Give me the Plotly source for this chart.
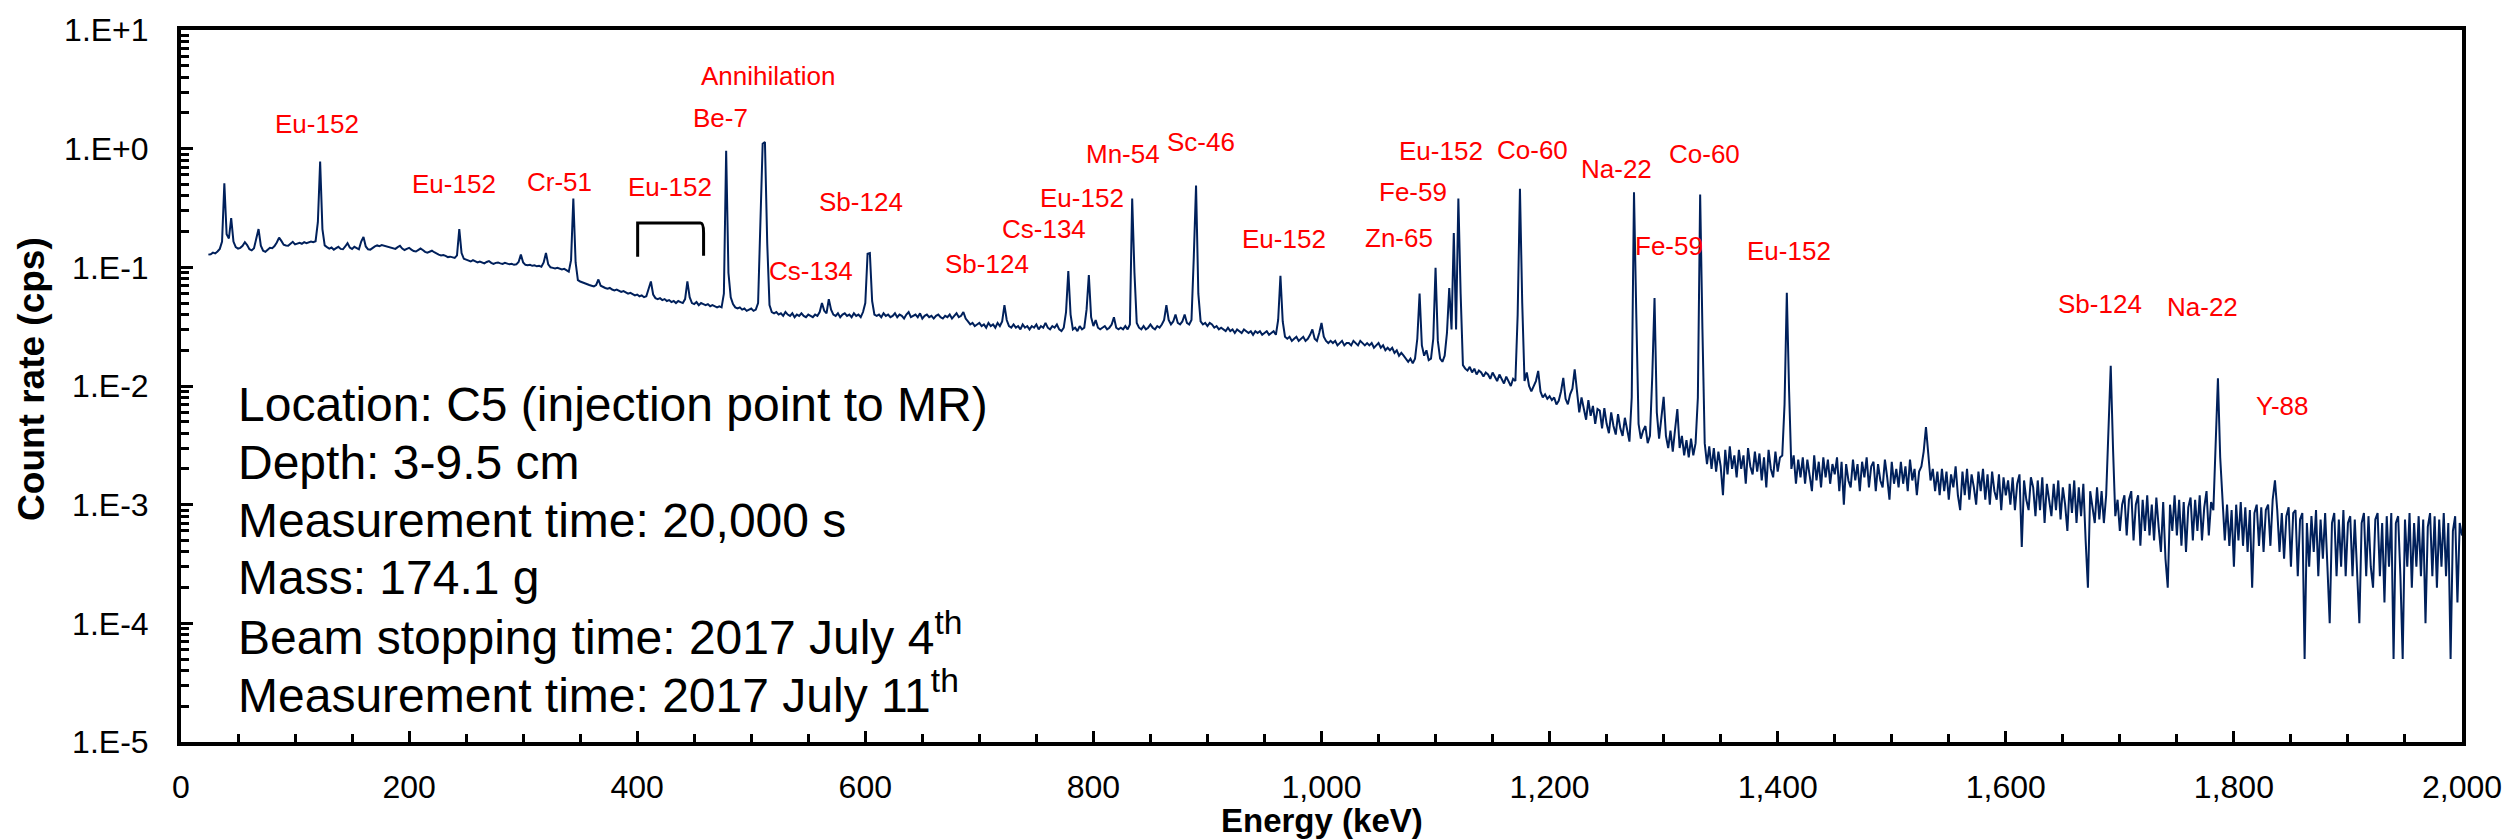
import numpy as np
import plotly.graph_objects as go

# Gamma-ray spectrum, 2 keV bins from 24 keV to 2000 keV.
# Count rates are stored in units of 1e-5 cps, one row per 20 keV.
rate_24_422 = [
    12800, 12900, 13300, 13100, 13600, 14300, 16500, 51000, 19000, 17500,
    26000, 16500, 14800, 14400, 14600, 15200, 16300, 15400, 14200, 13900,
    14500, 17200, 21000, 15200, 13800, 13500, 14000, 14600, 14500, 15100,
    16200, 17800, 16700, 15500, 15300, 15200, 15800, 16400, 15600, 15900,
    16100, 15800, 16300, 16000, 16200, 16500, 16300, 16600, 24000, 78000,
    21000, 15300, 14800, 14400, 14700, 14100, 14500, 14900, 14300, 14200,
    15000, 16000, 14700, 14300, 14900, 14500, 14200, 16500, 18000, 15000,
    14200, 14100, 14600, 15000, 15300, 15100, 15400, 15200, 15000, 14800,
    14600, 14400, 14300, 14800, 15200, 14400, 14000, 14300, 14600, 14100,
    13700, 13600, 13900, 14400, 14000, 13500, 13300, 13600, 13800, 13400,
    13000, 12800, 12600, 12700, 12500, 12200, 12300, 12100, 12000, 12600,
    21000, 13200, 11800, 11600, 11400, 11200, 11500, 11300, 11000, 11200,
    11000, 10800, 11100, 11300, 10900, 10700, 10900, 11000, 10800, 10700,
    10900, 10800, 10600, 10700, 10500, 10600, 11100, 12800, 11000, 10500,
    10400, 10500, 10300, 10400, 10200, 10300, 10100, 11000, 13200, 10600,
    10000, 9900, 9800, 9900, 9700, 9600, 9700, 9500, 9200, 11500,
    38000, 11000, 7800, 7600, 7500, 7300, 7200, 7100, 7000, 6900,
    7100, 7900, 7000, 6800, 6700, 6600, 6700, 6500, 6400, 6500,
    6300, 6200, 6300, 6100, 6000, 6100, 5900, 5800, 5900, 5700,
    5800, 5600, 5700, 6500, 7600, 5900, 5500, 5400, 5500, 5300,
]
rate_424_822 = [
    5400, 5200, 5300, 5100, 5200, 5000, 5200, 5100, 5000, 5400,
    7600, 5600, 5000, 4900, 5100, 4800, 5000, 4900, 4800, 4900,
    4700, 4800, 4700, 4600, 4700, 4600, 6000, 96000, 9000, 5600,
    4900, 4600, 4500, 4600, 4400, 4500, 4300, 4400, 4500, 4300,
    4400, 5000, 20000, 110000, 114000, 16000, 4800, 4200, 4100, 4200,
    4000, 4100, 3900, 4200, 4000, 3900, 4100, 3800, 4000, 3900,
    4100, 3900, 3800, 4000, 3900, 3800, 4000, 3900, 4200, 5000,
    4300, 4100, 5400, 4400, 4000, 3900, 4100, 3800, 4000, 4100,
    3900, 4000, 3800, 4100, 3900, 4000, 3800, 4200, 5000, 13000,
    13200, 5200, 4000, 3900, 4000, 3800, 4100, 3900, 4000, 3800,
    3900, 4100, 3800, 4000, 3900, 3700, 4000, 4200, 3800, 3900,
    4000, 3800, 4100, 3700, 3900, 4000, 3800, 3900, 3700, 3900,
    4000, 3800, 3700, 3900, 3800, 4000, 3700, 3900, 4100, 3800,
    3900, 4200, 3700, 3500, 3300, 3400, 3200, 3300, 3400, 3200,
    3300, 3100, 3400, 3200, 3300, 3100, 3400, 3200, 3500, 4800,
    3600, 3200, 3100, 3300, 3100, 3200, 3000, 3300, 3100, 3200,
    3000, 3200, 3100, 3300, 3000, 3200, 3100, 3400, 3100, 3000,
    3200, 3100, 3300, 3000, 2900, 3100, 4200, 9300, 4000, 3000,
    3100, 2900, 3200, 3000, 3100, 4400, 8600, 3800, 3200, 3600,
    3100, 3000, 3100, 3200, 3000, 3100, 3300, 3800, 3100, 3000,
]
rate_824_1222 = [
    3100, 3000, 3200, 3000, 3300, 38000, 9000, 3400, 3100, 3000,
    3200, 3000, 3100, 3300, 3100, 3000, 3200, 3100, 3300, 3600,
    4800, 3600, 3300, 3500, 4000, 3400, 3300, 3500, 4000, 3400,
    3300, 3600, 12000, 49000, 6000, 3500, 3300, 3400, 3200, 3400,
    3300, 3100, 3200, 3000, 3100, 3000, 2900, 3100, 2900, 3000,
    2800, 3000, 2900, 2800, 3000, 2900, 2800, 2900, 2700, 2900,
    2800, 2900, 2700, 2800, 2900, 2700, 2800, 2900, 2700, 3600,
    8500, 3500, 2600, 2500, 2600, 2400, 2500, 2600, 2400, 2500,
    2600, 2400, 2500, 2700, 3000, 2500, 2400, 2800, 3400, 2600,
    2400, 2300, 2400, 2300, 2400, 2200, 2300, 2400, 2200, 2300,
    2300, 2200, 2400, 2300, 2200, 2400, 2300, 2200, 2300, 2200,
    2300, 2100, 2200, 2300, 2100, 2200, 2000, 2100, 2000, 2100,
    1900, 2000, 1800, 1900, 1800, 1700, 1600, 1700, 1550, 1700,
    2500, 6000, 2200, 1800, 2000, 1650, 1700, 2500, 9900, 2400,
    1700, 1600, 1800, 2800, 6700, 3000, 19500, 3000, 38000, 6000,
    1500, 1400, 1350, 1450, 1300, 1400, 1250, 1350, 1300, 1200,
    1300, 1250, 1150, 1300, 1200, 1100, 1250, 1150, 1050, 1200,
    1100, 1000, 1150, 1100, 4000, 46000, 5000, 1100, 1300, 1000,
    900, 1000, 1100, 1340, 900, 800, 850, 780, 820, 760,
    800, 700, 750, 900, 1170, 780, 700, 850, 950, 1380,
]
rate_1224_1622 = [
    950, 600, 800, 620, 520, 760, 560, 680, 480, 640,
    620, 440, 650, 480, 400, 600, 460, 390, 580, 440,
    380, 540, 420, 340, 800, 43000, 4000, 480, 360, 420,
    460, 330, 380, 1200, 5500, 600, 360, 520, 810, 380,
    300, 420, 280, 430, 640, 300, 380, 260, 350, 250,
    360, 260, 330, 800, 41000, 3000, 330, 220, 310, 200,
    300, 190, 280, 210, 120, 290, 180, 310, 200, 260,
    170, 290, 200, 260, 150, 300, 210, 180, 280, 190,
    270, 160, 250, 140, 290, 200, 170, 280, 190, 250,
    260, 700, 6100, 900, 200, 260, 150, 240, 170, 250,
    150, 240, 180, 130, 260, 160, 230, 140, 250, 170,
    240, 150, 220, 180, 250, 130, 230, 100, 220, 160,
    140, 240, 160, 220, 130, 230, 170, 250, 140, 210,
    230, 130, 220, 160, 140, 240, 170, 110, 230, 150,
    200, 140, 230, 150, 210, 130, 240, 160, 200, 120,
    190, 210, 280, 450, 270, 160, 200, 130, 190, 120,
    200, 130, 190, 110, 180, 140, 210, 120, 90, 190,
    120, 200, 110, 180, 140, 100, 190, 130, 200, 110,
    180, 100, 190, 130, 110, 180, 90, 170, 120, 160,
    100, 170, 90, 150, 180, 44, 160, 110, 90, 170,
]
rate_1624_2000 = [
    140, 80, 160, 90, 170, 70, 150, 110, 80, 150,
    90, 160, 75, 140, 100, 60, 150, 85, 160, 70,
    140, 80, 150, 50, 20, 130, 90, 70, 140, 75,
    130, 70, 120, 400, 1480, 300, 80, 110, 60, 100,
    120, 55, 110, 130, 50, 100, 120, 45, 110, 60,
    120, 55, 100, 50, 115, 65, 40, 105, 35, 20,
    100, 60, 120, 55, 110, 45, 105, 40, 95, 115,
    50, 110, 60, 120, 50, 95, 130, 55, 105, 90,
    300, 1160, 250, 110, 50, 100, 45, 90, 30, 100,
    50, 105, 45, 95, 40, 90, 20, 85, 100, 45,
    95, 40, 90, 100, 45, 110, 160, 90, 40, 85,
    35, 80, 95, 30, 85, 90, 25, 75, 85, 5,
    70, 30, 80, 40, 90, 25, 75, 35, 85, 30,
    10, 70, 85, 25, 75, 30, 90, 25, 70, 80,
    25, 75, 30, 10, 70, 85, 25, 80, 30, 20,
    75, 85, 25, 70, 15, 80, 30, 85, 5, 70,
    80, 25, 5, 75, 30, 85, 20, 70, 30, 80,
    25, 75, 10, 65, 85, 25, 80, 20, 75, 30,
    85, 25, 70, 5, 60, 80, 15, 70, 55,
]

BIN_START_KEV = 24
BIN_WIDTH_KEV = 2

# Nuclide labels and where each one sits (energy in keV, count rate in cps)
label_text = [
    "Eu-152", "Eu-152", "Cr-51", "Eu-152", "Annihilation", "Be-7", "Sb-124",
    "Cs-134", "Sb-124", "Cs-134", "Eu-152", "Mn-54", "Sc-46", "Eu-152",
    "Zn-65", "Fe-59", "Eu-152", "Co-60", "Na-22", "Co-60", "Fe-59",
    "Eu-152", "Sb-124", "Na-22", "Y-88",
]
label_kev = [
    119.1, 239.2, 332.0, 428.4, 515.1, 473.1, 596.6,
    552.8, 707.0, 756.9, 790.2, 826.1, 894.4, 967.1,
    1067.9, 1080.2, 1104.7, 1185.3, 1258.9, 1336.0, 1304.4,
    1409.6, 1682.9, 1772.2, 1842.3,
]
label_cps = [
    1.61, 0.508, 0.519, 0.471, 4.06, 1.81, 0.353,
    0.0938, 0.107, 0.210, 0.381, 0.906, 1.14, 0.173,
    0.177, 0.428, 0.960, 0.978, 0.678, 0.906, 0.151,
    0.138, 0.0488, 0.0460, 0.00673,
]

# Sample information block
info_lines = [
    "Location: C5 (injection point to MR)",
    "Depth: 3-9.5 cm",
    "Measurement time: 20,000 s",
    "Mass: 174.1 g",
    "Beam stopping time: 2017 July 4<sup>th</sup>",
    "Measurement time: 2017 July 11<sup>th</sup>",
]
info_kev = 48.2
info_cps = [7.0e-3, 2.25e-3, 7.38e-4, 2.42e-4, 8.09e-5, 2.65e-5]

y_tick_vals = [1e-5, 1e-4, 1e-3, 1e-2, 1e-1, 1e0, 1e1]
y_tick_text = ["1.E-5", "1.E-4", "1.E-3", "1.E-2", "1.E-1", "1.E+0", "1.E+1"]

rate_units = np.array(rate_24_422 + rate_424_822 + rate_824_1222
                      + rate_1224_1622 + rate_1624_2000, dtype=float)
count_rate = rate_units * 1e-5
energy = BIN_START_KEV + BIN_WIDTH_KEV * np.arange(len(count_rate))

FONT = "Arial, Liberation Sans, sans-serif"
LINE_BLUE = "#00205B"

fig = go.Figure()
fig.add_trace(go.Scatter(
    x=energy, y=count_rate, mode="lines",
    line=dict(color=LINE_BLUE, width=2),
    showlegend=False, hoverinfo="x+y",
))

annotations = []
for txt, kev, cps in zip(label_text, label_kev, label_cps):
    annotations.append(dict(
        x=kev, y=np.log10(cps), xref="x", yref="y", text=txt,
        showarrow=False, xanchor="center", yanchor="middle",
        font=dict(family=FONT, size=26, color="#FF0000"),
    ))
for txt, cps in zip(info_lines, info_cps):
    annotations.append(dict(
        x=info_kev, y=np.log10(cps), xref="x", yref="y", text=txt,
        showarrow=False, xanchor="left", yanchor="middle",
        font=dict(family=FONT, size=48, color="black"),
    ))

# Axis titles
annotations.append(dict(
    x=0.5, y=-0.11, xref="paper", yref="paper", text="<b>Energy (keV)</b>",
    showarrow=False, xanchor="center", yanchor="middle",
    font=dict(family=FONT, size=33, color="black"),
))
annotations.append(dict(
    x=-0.0653, y=0.51, xref="paper", yref="paper", text="<b>Count rate (cps)</b>",
    showarrow=False, xanchor="center", yanchor="middle", textangle=-90,
    font=dict(family=FONT, size=37, color="black"),
))

# Bracket grouping the two small Eu-152 lines near 411 and 444 keV
bracket = dict(
    type="path", xref="x", yref="paper",
    path="M 400.4,0.6815 L 400.4,0.7288 L 455.5,0.7288 "
         "Q 458.2,0.7288 458.2,0.715 L 458.2,0.683",
    line=dict(color="black", width=3),
)

minor_y = [k * 10.0 ** e for e in range(-5, 1) for k in range(2, 10)]

fig.update_layout(
    width=2514, height=840, autosize=False,
    margin=dict(l=181, r=50, t=23, b=98),
    paper_bgcolor="white", plot_bgcolor="white",
    font=dict(family=FONT, color="black"),
    annotations=annotations,
    shapes=[bracket],
    xaxis=dict(
        range=[0, 2000], tickmode="linear", tick0=0, dtick=200,
        tickformat=",d", ticks="inside", ticklen=11, tickwidth=3,
        tickcolor="black", showline=True, linewidth=4, linecolor="black",
        mirror=True, showgrid=False, zeroline=False,
        tickfont=dict(family=FONT, size=32, color="black"),
        ticklabelstandoff=14,
        minor=dict(tickmode="linear", tick0=0, dtick=50, ticks="inside",
                   ticklen=8, tickwidth=2.5, tickcolor="black", showgrid=False),
    ),
    yaxis=dict(
        type="log", range=[-5, 1], tickmode="array",
        tickvals=y_tick_vals, ticktext=y_tick_text,
        ticks="inside", ticklen=12, tickwidth=3, tickcolor="black",
        showline=True, linewidth=4, linecolor="black", mirror=True,
        showgrid=False, zeroline=False,
        tickfont=dict(family=FONT, size=32, color="black"),
        ticklabelstandoff=22,
        minor=dict(tickmode="array", tickvals=minor_y, ticks="inside",
                   ticklen=8, tickwidth=2.5, tickcolor="black", showgrid=False),
    ),
)

fig.write_html("out.html")
